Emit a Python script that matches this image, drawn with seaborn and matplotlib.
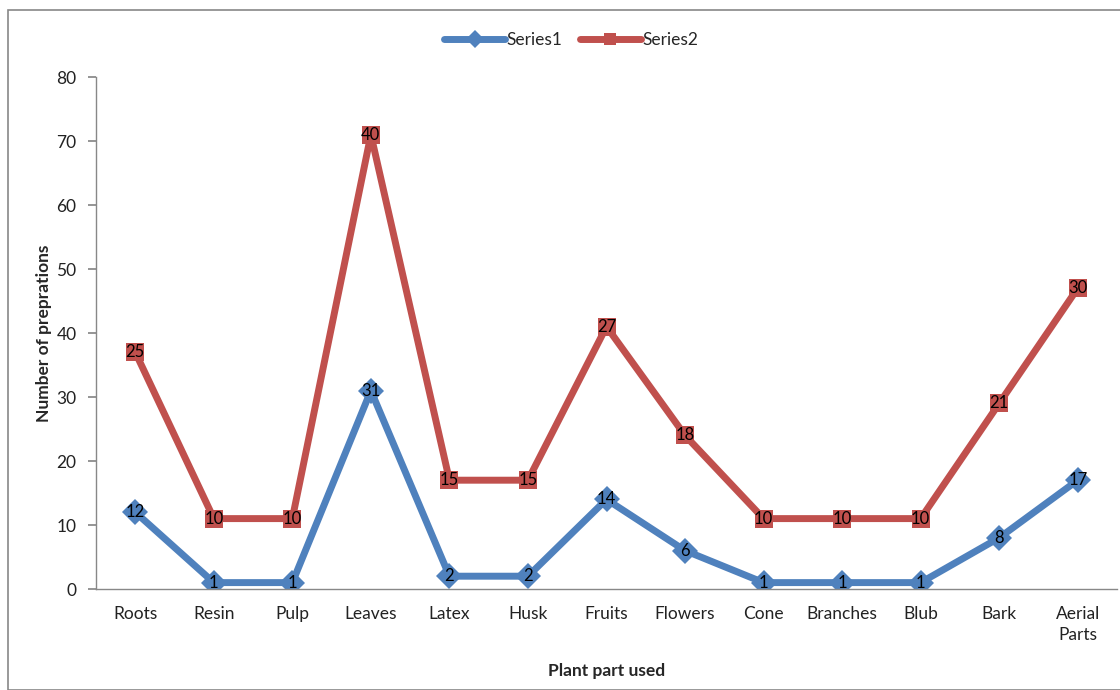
import matplotlib
matplotlib.use("Agg")
import matplotlib.pyplot as plt
import seaborn as sns
import pandas as pd
import numpy as np
from matplotlib.patches import Rectangle
from matplotlib.lines import Line2D

categories = ["Roots", "Resin", "Pulp", "Leaves", "Latex", "Husk", "Fruits",
              "Flowers", "Cone", "Branches", "Blub", "Bark", "Aerial\nParts"]
series1 = [12, 1, 1, 31, 2, 2, 14, 6, 1, 1, 1, 8, 17]
series2 = [25, 10, 10, 40, 15, 15, 27, 18, 10, 10, 10, 21, 30]
yticks = [0, 10, 20, 30, 40, 50, 60, 70, 80]

sns.set_theme(style="white")
plt.rcParams['font.family'] = ['Lato', 'DejaVu Sans']

blue = "#4F81BD"
red = "#C0504D"

stacked2 = [a + b for a, b in zip(series1, series2)]
x = np.arange(len(categories))
df = pd.DataFrame({
    "x": np.concatenate([x, x]),
    "y": series1 + stacked2,
    "label": series1 + series2,
    "series": ["Series1"] * len(x) + ["Series2"] * len(x),
})

fig = plt.figure(figsize=(11.2, 6.9), dpi=100)
ax = fig.add_axes([96/1120, 1 - 589/690, (1117-96)/1120, (589-77)/690])

sns.lineplot(data=df, x="x", y="y", hue="series", style="series",
             palette={"Series1": blue, "Series2": red},
             markers={"Series1": "D", "Series2": "s"}, dashes=False,
             linewidth=5, markersize=13, markeredgewidth=0, ax=ax, legend=False)

for _, r in df.iterrows():
    ax.text(r["x"], r["y"], str(r["label"]), ha="center", va="center",
            fontsize=12, color="black", zorder=5)

ax.set_xlim(-0.5, len(categories) - 0.5)
ax.set_ylim(0, 80)
ax.set_yticks(yticks)
ax.set_xticks(x)
ax.set_xticklabels(categories, fontsize=12.5, color="#222222", linespacing=1.4)
ax.set_xticks(np.arange(-0.5, len(categories)), minor=True)
ax.tick_params(axis="x", which="major", length=0, pad=12)
ax.tick_params(axis="x", which="minor", length=6, color="#888888", direction="out")
ax.tick_params(axis="y", length=6, color="#888888", direction="out", labelsize=12.5,
               labelcolor="#222222", left=True, pad=8)
for s in ["top", "right"]:
    ax.spines[s].set_visible(False)
for s in ["left", "bottom"]:
    ax.spines[s].set_color("#888888")
    ax.spines[s].set_linewidth(1)
ax.grid(False)
ax.set_xlabel("Plant part used", fontsize=12.5, fontweight="bold")
ax.set_ylabel("Number of preprations", fontsize=12.5, fontweight="bold")
ax.xaxis.set_label_coords(0.5, -0.145)
ax.yaxis.set_label_coords(-0.043, 0.5)

handles = [Line2D([], [], color=blue, marker="D", lw=5, markersize=9, markeredgewidth=0),
           Line2D([], [], color=red, marker="s", lw=5, markersize=9, markeredgewidth=0)]
fig.legend(handles, ["Series1", "Series2"], loc="center", bbox_to_anchor=(0.51, 1 - 40/690),
           ncol=2, frameon=False, fontsize=12.5, handlelength=3.5, handletextpad=0.1,
           columnspacing=1.0)

fig.patches.append(Rectangle((8/1120, 0), 1, 1 - 10/690, transform=fig.transFigure,
                             fill=False, edgecolor="#888888", linewidth=1.2))

fig.savefig("out.png", dpi=100, facecolor="white")
